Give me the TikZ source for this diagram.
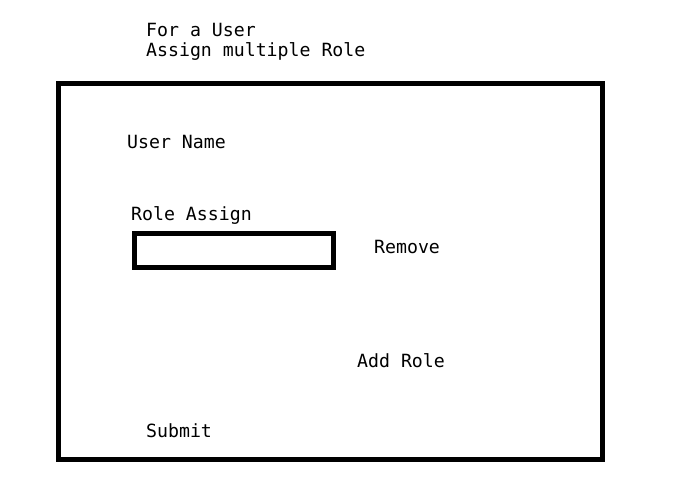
\documentclass[tikz,border=0pt]{standalone}
\usepackage{fontspec}
\setmonofont{DejaVu Sans Mono}
\begin{document}
\begin{tikzpicture}[x=1pt,y=-1pt,
  lbl/.style={anchor=base west,inner sep=0pt,font=\fontsize{18.2}{20}\selectfont\ttfamily},
  frame/.style={draw=black,line width=5pt}]
\useasboundingbox (0,0) rectangle (694,500);
\fill[white] (0,0) rectangle (694,500);
\node[lbl] (t1) at (146,37) {For a User};
\node[lbl] (t2) at (146,57) {Assign multiple Role};
\draw[frame] (58,84) rectangle (602,459);
\node[lbl] (user) at (127,149) {User Name};
\node[lbl] (role) at (131,221) {Role Assign};
\node[frame,minimum width=199pt,minimum height=34pt,inner sep=0pt,outer sep=0pt,anchor=north west] (box) at (134.5,233.5) {};
\node[lbl] (remove) at (374,253) {Remove};
\node[lbl] (add) at (357,367) {Add Role};
\node[lbl] (submit) at (146,437) {Submit};
\end{tikzpicture}
\end{document}
